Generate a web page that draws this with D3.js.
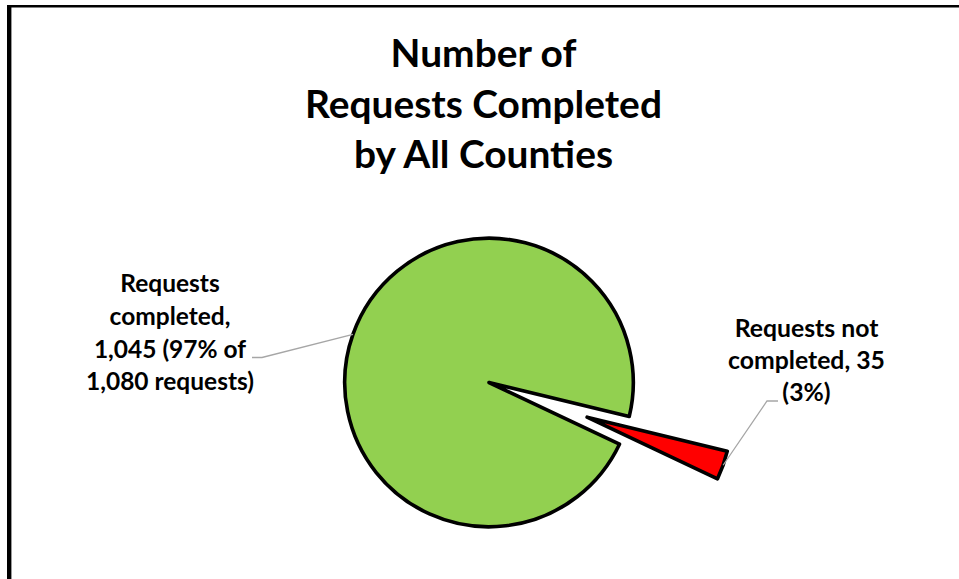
<!DOCTYPE html>
<html>
<head>
<meta charset="utf-8">
<script src="https://cdn.jsdelivr.net/npm/d3@7"></script>
<style>
  html, body { margin: 0; padding: 0; background: #fff; }
  svg { display: block; }
  text { font-family: "Lato", "Open Sans", sans-serif; font-weight: bold; fill: #000; }
</style>
</head>
<body>
<svg id="chart" width="959" height="579"></svg>
<script>
// ---- data ----
const categories = ["Requests completed", "Requests not completed"];
const values = [1045, 35];
const colors = ["#92D050", "#FF0000"];
const titleLines = ["Number of", "Requests Completed", "by All Counties"];
const labelLines = [
  ["Requests", "completed,", "1,045 (97% of", "1,080 requests)"],
  ["Requests not", "completed, 35", "(3%)"]
];

const svg = d3.select("#chart");
const W = 959, H = 579;

svg.append("rect").attr("width", W).attr("height", H).attr("fill", "#fff");

// chart frame (extends past the window on right and bottom)
svg.append("line").attr("x1", 7).attr("x2", W).attr("y1", 6.3).attr("y2", 6.3)
  .attr("stroke", "#000").attr("stroke-width", 2.6);
svg.append("line").attr("x1", 9.2).attr("x2", 9.2).attr("y1", 5).attr("y2", H)
  .attr("stroke", "#000").attr("stroke-width", 4.4);

// helper: fit a text block so a reference line has the given width
function textBlock(lines, cx, baselines, refIdx, refWidth) {
  const g = svg.append("g");
  const ts = lines.map((s, i) => g.append("text")
    .attr("x", cx).attr("y", baselines[i]).attr("text-anchor", "middle")
    .style("font-size", "20px").text(s));
  const w = ts[refIdx].node().getComputedTextLength();
  const fs = 20 * refWidth / w;
  ts.forEach(t => t.style("font-size", fs + "px"));
  return g;
}

// title
textBlock(titleLines, 483.5, [67, 117.5, 168], 1, 357);

// pie
const cx = 489, cy = 382.5, R = 144.3;
const start = 115.3 * Math.PI / 180;
const pie = d3.pie().sort(null).startAngle(start).endAngle(start + 2 * Math.PI);
const arcs = pie(values);
const arc = d3.arc().innerRadius(0).outerRadius(R);
const explode = [0, 104];

const gp = svg.append("g").attr("transform", `translate(${cx},${cy})`);
function offset(d, i) {
  const m = (d.startAngle + d.endAngle) / 2;
  return [explode[i] * Math.sin(m), -explode[i] * Math.cos(m)];
}
gp.selectAll("path.slice").data(arcs).join("path")
  .attr("class", "slice")
  .attr("d", arc)
  .attr("transform", (d, i) => { const o = offset(d, i); return `translate(${o[0]},${o[1]})`; })
  .attr("fill", (d, i) => colors[i])
  .attr("stroke", "#000").attr("stroke-width", 3.6).attr("stroke-linejoin", "round");

// leader lines
function edgePoint(d, i) {
  const m = (d.startAngle + d.endAngle) / 2;
  const o = offset(d, i);
  return [cx + o[0] + R * Math.sin(m), cy + o[1] - R * Math.cos(m)];
}
const p0 = edgePoint(arcs[0], 0);
const p1 = edgePoint(arcs[1], 1);
const line = d3.line();
svg.append("path").attr("d", line([[252, 357.5], [262, 357.5], p0]))
  .attr("fill", "none").attr("stroke", "#A6A6A6").attr("stroke-width", 1.3);
svg.append("path").attr("d", line([p1, [767, 401], [778, 401]]))
  .attr("fill", "none").attr("stroke", "#A6A6A6").attr("stroke-width", 1.3);

// data labels
textBlock(labelLines[0], 170, [291.5, 324.5, 357.5, 390], 3, 168);
textBlock(labelLines[1], 806.5, [336.5, 368.5, 400.5], 1, 157);
</script>
</body>
</html>
